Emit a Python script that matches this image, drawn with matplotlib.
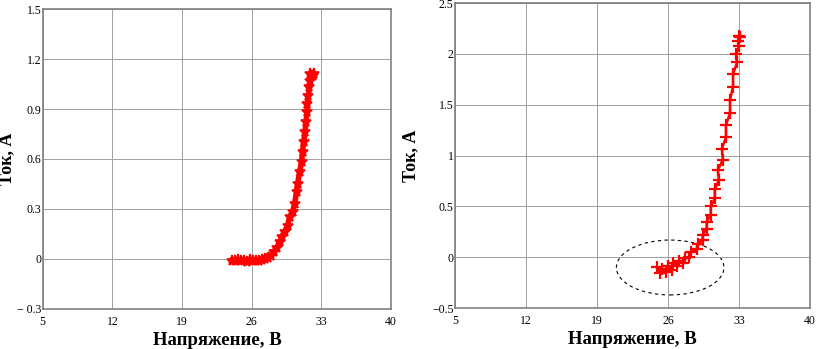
import matplotlib.pyplot as plt
from matplotlib.patches import Ellipse

plt.rcParams['font.family'] = ['Liberation Serif', 'DejaVu Serif']

# левый график: напряжение (В) и ток (А)
u_left = [24.0, 24.3, 24.6, 24.9, 25.2, 25.5, 25.8, 26.1, 26.4, 26.7, 27.0, 27.3,
          27.6, 27.9, 28.2, 28.5, 28.8, 29.0, 29.3, 29.6, 29.8, 30.1, 30.3, 30.5,
          30.6, 30.8, 31.0, 31.1, 31.2, 31.35, 31.45, 31.55, 31.6, 31.7, 31.8,
          31.9, 32.1, 32.3, 32.2, 31.9]
i_left = [-0.010, -0.015, -0.008, -0.014, -0.010, -0.016, -0.009, -0.013, -0.010,
          -0.015, -0.007, -0.002, 0.008, 0.020, 0.040, 0.065, 0.10, 0.13, 0.16,
          0.20, 0.25, 0.28, 0.33, 0.40, 0.45, 0.52, 0.58, 0.64, 0.70, 0.76, 0.82,
          0.88, 0.93, 0.98, 1.03, 1.07, 1.10, 1.11, 1.10, 1.11]

# правый график
u_right = [24.9, 25.2, 25.4, 25.8, 26.0, 26.4, 26.5, 26.9, 27.1, 27.5, 27.7, 28.1,
           28.3, 28.8, 28.9, 29.4, 29.4, 29.8, 29.8, 30.2, 30.2, 30.6, 30.6, 31.0,
           30.9, 31.4, 31.3, 31.7, 31.7, 32.1, 32.1, 32.4, 32.4, 32.8, 32.7, 33.0,
           32.9, 33.1, 33.0]
i_right = [-0.10, -0.15, -0.11, -0.14, -0.09, -0.12, -0.06, -0.09, -0.04, -0.06,
           -0.01, 0.00, 0.05, 0.08, 0.13, 0.17, 0.22, 0.28, 0.35, 0.42, 0.50, 0.58,
           0.67, 0.76, 0.86, 0.96, 1.07, 1.18, 1.30, 1.42, 1.55, 1.68, 1.80, 1.92,
           2.00, 2.08, 2.13, 2.17, 2.18]

x_ticks = [5, 12, 19, 26, 33, 40]
y_ticks_left = [-0.3, 0, 0.3, 0.6, 0.9, 1.2, 1.5]
y_labels_left = ['\u2212 0.3', '0', '0.3', '0.6', '0.9', '1.2', '1.5']
y_ticks_right = [-0.5, 0, 0.5, 1, 1.5, 2, 2.5]
y_labels_right = ['\u22120.5', '0', '0.5', '1', '1.5', '2', '2.5']

fig = plt.figure(figsize=(8.2, 3.49), dpi=100)
ax1 = fig.add_axes([0.052, 0.115, 0.425, 0.859])
ax2 = fig.add_axes([0.555, 0.117, 0.433, 0.874])

ax1.plot(u_left, i_left, color='red', lw=4, marker='*', ms=8, mew=1.2)
ax2.plot(u_right, i_right, color='red', lw=1.8, marker='+', ms=8, mew=1.6)
ax2.add_patch(Ellipse((26.2, -0.1), 10.6, 0.54, fill=False, ls=(0, (3, 3)),
                      lw=0.8, color='black'))

for ax, yt, yl, lim in [(ax1, y_ticks_left, y_labels_left, (-0.3, 1.5)),
                        (ax2, y_ticks_right, y_labels_right, (-0.5, 2.5))]:
    ax.set_xlim(5, 40)
    ax.set_ylim(*lim)
    ax.set_xticks(x_ticks)
    ax.set_yticks(yt)
    ax.set_yticklabels(yl)
    ax.tick_params(length=0, labelsize=8.5)
    ax.tick_params(axis='x', pad=5)
    ax.tick_params(axis='y', pad=1)
    ax.grid(True, color='#a0a0a0', lw=0.7)
    for s in ax.spines.values():
        s.set_color('#808080')
        s.set_linewidth(1.2)
    ax.set_xlabel('Напряжение, В', fontsize=13.5, fontweight='bold', labelpad=3)
    ax.set_ylabel('Ток, А', fontsize=13, fontweight='bold')

ax1.yaxis.set_label_coords(-0.078, 0.5)
ax2.yaxis.set_label_coords(-0.1, 0.5)

fig.savefig('out.png', dpi=100)
